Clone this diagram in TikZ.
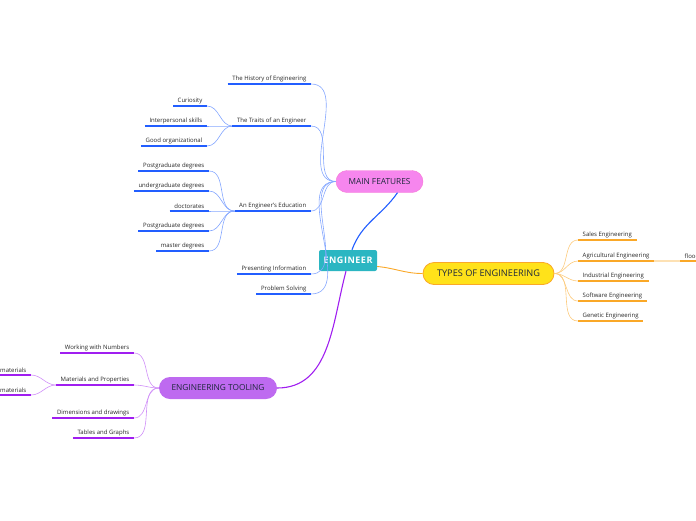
\documentclass[tikz,border=0pt]{standalone}
\usepackage{fontspec}
\setmainfont{Open Sans}
\usetikzlibrary{positioning}
\definecolor{hubteal}{RGB}{43,182,194}
\definecolor{featpink}{RGB}{246,134,238}
\definecolor{featblue}{RGB}{34,94,255}
\definecolor{typeyel}{RGB}{255,226,26}
\definecolor{typeorg}{RGB}{250,168,40}
\definecolor{toolpur}{RGB}{190,106,240}
\definecolor{toolvio}{RGB}{160,30,240}
\definecolor{inkdark}{RGB}{30,40,60}

\begin{document}
\begin{tikzpicture}[
  x=1pt, y=-1pt,
  hub/.style={fill=hubteal, rounded corners=2pt, minimum width=58pt, minimum height=21pt,
              text=white, font=\fontsize{9}{10}\selectfont\bfseries\addfontfeature{LetterSpace=6}},
  topic/.style={rounded corners=11pt, minimum height=22pt, text=inkdark,
                font=\fontsize{8.3}{9}\selectfont},
  leaf/.style={font=\fontsize{6}{7}\selectfont, inner xsep=4.5pt, inner ysep=2pt, text=black!85},
  bline/.style={featblue, line width=1.4pt},
  blink/.style={featblue!55, line width=0.6pt},
  oline/.style={typeorg, line width=1.4pt},
  olink/.style={typeorg!60, line width=0.6pt},
  pline/.style={toolvio, line width=1.4pt},
  plink/.style={toolvio!50, line width=0.6pt}
]
  \useasboundingbox (0,0) rectangle (696,520);

  % central topic and main branches
  \node[hub] (hub) at (348,260.5) {ENGINEER};
  \node[topic, fill=featpink, draw=featpink!90!red, minimum width=87pt] (feat) at (379.5,181.5) {MAIN FEATURES};
  \node[topic, fill=typeyel, draw=typeorg, line width=0.8pt, minimum width=131pt,
        font=\fontsize{9.2}{10}\selectfont] (types) at (488.5,273.5) {TYPES OF ENGINEERING};
  \node[topic, fill=toolpur, minimum width=118pt] (tool) at (218,388) {ENGINEERING TOOLING};

  \draw[featblue, line width=1.1pt] ([xshift=4pt]hub.north) to[out=70,in=235] ([xshift=18pt]feat.south);
  \draw[typeorg, line width=0.9pt] ([yshift=-6pt]hub.east) to[out=-5,in=180] (types.west);
  \draw[toolvio, line width=1.1pt] ([xshift=-2pt]hub.south) to[out=-105,in=0] (tool.east);

  % main features
  \node[leaf, anchor=south east] (hist) at (311,84) {The History of Engineering};
  \node[leaf, anchor=south east] (trait) at (311,126) {The Traits of an Engineer};
  \node[leaf, anchor=south east] (edu) at (311,211) {An Engineer's Education};
  \node[leaf, anchor=south east] (pres) at (311,274) {Presenting Information};
  \node[leaf, anchor=south east] (prob) at (311,294) {Problem Solving};
  \foreach \n in {hist,trait,edu,pres,prob}
    \draw[blink] (feat.west) to[out=180,in=0] (\n.south east);

  \node[leaf, anchor=south east] (cur) at (207,106) {Curiosity};
  \node[leaf, anchor=south east] (inter) at (207,126) {Interpersonal skills};
  \node[leaf, anchor=south east] (org) at (207,146) {Good organizational};
  \foreach \n in {cur,inter,org}
    \draw[blink] (trait.south west) to[out=180,in=0] (\n.south east);

  \node[leaf, anchor=south east] (pg) at (209,171) {Postgraduate degrees};
  \node[leaf, anchor=south east] (ug) at (209,191) {undergraduate degrees};
  \node[leaf, anchor=south east] (doc) at (209,211) {doctorates};
  \node[leaf, anchor=south east] (pgb) at (209,231) {Postgraduate degrees};
  \node[leaf, anchor=south east] (mas) at (209,251) {master degrees};
  \foreach \n in {pg,ug,doc,pgb,mas}
    \draw[blink] (edu.south west) to[out=180,in=0] (\n.south east);

  \foreach \n in {hist,trait,edu,pres,prob,cur,inter,org,pg,ug,doc,pgb,mas}
    \draw[bline] (\n.south west) -- (\n.south east);

  % types of engineering
  \node[leaf, anchor=south west] (sales) at (578,240) {Sales Engineering};
  \node[leaf, anchor=south west] (agri) at (578,261) {Agricultural Engineering};
  \node[leaf, anchor=south west] (indu) at (578,281) {Industrial Engineering};
  \node[leaf, anchor=south west] (soft) at (578,301) {Software Engineering};
  \node[leaf, anchor=south west] (gene) at (578,321) {Genetic Engineering};
  \foreach \n in {sales,agri,indu,soft,gene}
    \draw[olink] (types.east) to[out=0,in=180] (\n.south west);
  \node[leaf, anchor=south west] (flood) at (680,261) {flood};
  \draw[typeorg!35, line width=1.4pt] (agri.south east) -- (flood.south west);
  \foreach \n in {sales,agri,indu,soft,gene,flood}
    \draw[oline] (\n.south west) -- (\n.south east);

  % engineering tooling
  \node[leaf, anchor=south east] (num) at (134,353) {Working with Numbers};
  \node[leaf, anchor=south east] (mat) at (134,385) {Materials and Properties};
  \node[leaf, anchor=south east] (dim) at (134,418) {Dimensions and drawings};
  \node[leaf, anchor=south east] (tab) at (134,438) {Tables and Graphs};
  \foreach \n in {num,mat,dim,tab}
    \draw[plink] (tool.west) to[out=180,in=0] (\n.south east);
  \node[leaf, anchor=south east] (mata) at (31,375) {materials};
  \node[leaf, anchor=south east] (matb) at (31,395) {materials};
  \foreach \n in {mata,matb}
    \draw[plink] (mat.south west) to[out=180,in=0] (\n.south east);
  \foreach \n in {num,mat,dim,tab,mata,matb}
    \draw[pline] (\n.south west) -- (\n.south east);
\end{tikzpicture}
\end{document}
